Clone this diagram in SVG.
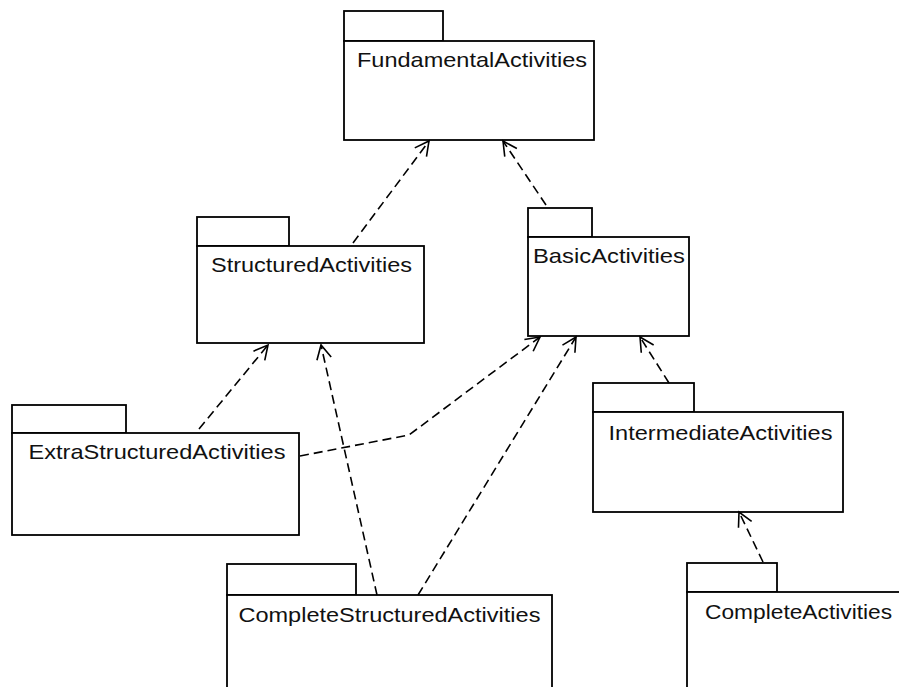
<svg xmlns="http://www.w3.org/2000/svg" width="899" height="687" viewBox="0 0 899 687">
  <style>
    .box { fill: #ffffff; stroke: #000000; stroke-width: 1.8; }
    .lbl { font-family: "Liberation Sans", Arial, Helvetica, sans-serif; font-size: 21px; fill: #111111; }
    .dep { fill: none; stroke: #000000; stroke-width: 1.6; stroke-dasharray: 9 5; marker-end: url(#open); }
  </style>
  <defs>
    <marker id="open" markerUnits="userSpaceOnUse" markerWidth="20" markerHeight="20" refX="16" refY="10" orient="auto" overflow="visible">
      <path d="M2,2.7 L16,10 L2,17.3" fill="none" stroke="#000000" stroke-width="1.6" stroke-dasharray="none"/>
    </marker>
  </defs>
  <rect width="899" height="687" fill="#ffffff"/>

  <!-- package names are drawn with a slightly widened face -->
  <g id="FundamentalActivities">
    <rect class="box" x="344" y="11" width="99" height="30"/>
    <rect class="box" x="344" y="41" width="250" height="99"/>
    <text class="lbl" transform="scale(1.12,1)" x="318.75" y="67" textLength="205.4" lengthAdjust="spacingAndGlyphs">FundamentalActivities</text>
  </g>

  <g id="StructuredActivities">
    <rect class="box" x="197" y="217" width="92" height="29"/>
    <rect class="box" x="197" y="246" width="227" height="97"/>
    <text class="lbl" transform="scale(1.12,1)" x="188.4" y="272" textLength="179.5" lengthAdjust="spacingAndGlyphs">StructuredActivities</text>
  </g>

  <g id="BasicActivities">
    <rect class="box" x="528" y="208" width="64" height="29"/>
    <rect class="box" x="528" y="237" width="161" height="99"/>
    <text class="lbl" transform="scale(1.12,1)" x="475.9" y="263" textLength="135.7" lengthAdjust="spacingAndGlyphs">BasicActivities</text>
  </g>

  <g id="ExtraStructuredActivities">
    <rect class="box" x="12" y="405" width="114" height="28"/>
    <rect class="box" x="12" y="433" width="287" height="102"/>
    <text class="lbl" transform="scale(1.12,1)" x="25.4" y="459" textLength="229.5" lengthAdjust="spacingAndGlyphs">ExtraStructuredActivities</text>
  </g>

  <g id="IntermediateActivities">
    <rect class="box" x="593" y="383" width="101" height="29"/>
    <rect class="box" x="593" y="412" width="250" height="100"/>
    <text class="lbl" transform="scale(1.12,1)" x="543.3" y="440" textLength="200" lengthAdjust="spacingAndGlyphs">IntermediateActivities</text>
  </g>

  <g id="CompleteStructuredActivities">
    <rect class="box" x="227" y="564" width="129" height="31"/>
    <rect class="box" x="227" y="595" width="325" height="120"/>
    <text class="lbl" transform="scale(1.12,1)" x="212.9" y="622" textLength="269.6" lengthAdjust="spacingAndGlyphs">CompleteStructuredActivities</text>
  </g>

  <g id="CompleteActivities">
    <rect class="box" x="687" y="563" width="90" height="29"/>
    <rect class="box" x="687" y="592" width="260" height="120"/>
    <text class="lbl" transform="scale(1.12,1)" x="629.5" y="619" textLength="167" lengthAdjust="spacingAndGlyphs">CompleteActivities</text>
  </g>

  <g id="connectors">
    <path class="dep" d="M353,243 L429,141"/>
    <path class="dep" d="M546,205 L503,141"/>
    <path class="dep" d="M199,429 L268,345"/>
    <path class="dep" d="M377,595 L321,345"/>
    <path class="dep" d="M300,456 L409,435 L540,337"/>
    <path class="dep" d="M418,595 L576,337"/>
    <path class="dep" d="M669,383 L640,337"/>
    <path class="dep" d="M763,562 L739,512"/>
  </g>
</svg>
